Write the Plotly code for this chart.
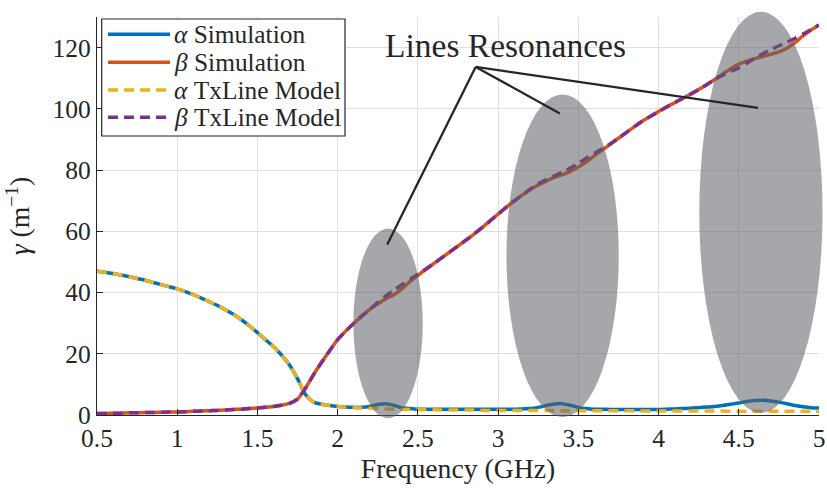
import plotly.graph_objects as go

# Frequency grid (GHz)
freq = [round(0.5 + 0.05 * i, 2) for i in range(91)]

# Attenuation constant alpha (1/m), full-wave simulation
alpha_sim = [
    47.0, 46.6, 46.2, 45.7, 45.2, 44.6, 44.0, 43.3, 42.6, 41.9,
    41.2, 40.3, 39.3, 38.2, 37.0, 35.8, 34.4, 32.9, 31.1, 29.1,
    26.9, 24.6, 22.3, 19.6, 16.3, 11.8, 6.6, 4.2, 3.5, 3.1,
    2.8, 2.6, 2.5, 2.5, 2.8, 3.4, 3.7, 3.2, 2.4, 2.1,
    1.9, 1.9, 1.9, 1.9, 1.9, 1.9, 1.9, 1.9, 1.9, 1.9,
    1.9, 1.9, 1.9, 2.0, 2.1, 2.5, 3.1, 3.6, 3.7, 3.2,
    2.5, 2.1, 1.9, 1.9, 1.8, 1.8, 1.8, 1.8, 1.8, 1.8,
    1.8, 1.9, 2.0, 2.1, 2.2, 2.4, 2.6, 2.8, 3.1, 3.5,
    3.9, 4.4, 4.7, 4.8, 4.6, 4.2, 3.7, 3.1, 2.7, 2.4,
    2.3,
]

# Phase constant beta (1/m), full-wave simulation
beta_sim = [
    0.5, 0.5, 0.6, 0.6, 0.7, 0.7, 0.8, 0.8, 0.9, 1.0,
    1.0, 1.1, 1.2, 1.3, 1.4, 1.5, 1.6, 1.8, 1.9, 2.1,
    2.3, 2.5, 2.8, 3.2, 3.8, 5.2, 8.8, 13.2, 17.2, 21.0,
    24.6, 27.4, 29.9, 32.3, 34.5, 36.3, 38.0, 39.3, 41.2, 43.6,
    45.6, 47.6, 49.5, 51.4, 53.3, 55.2, 57.1, 59.1, 61.2, 63.4,
    65.6, 67.8, 69.9, 71.8, 73.6, 75.1, 76.4, 77.6, 78.5, 79.6,
    81.0, 82.7, 84.7, 86.6, 88.5, 90.4, 92.3, 94.2, 96.0, 97.6,
    99.1, 100.6, 102.0, 103.4, 104.8, 106.3, 107.9, 109.6, 111.4, 113.1,
    114.6, 115.6, 116.4, 117.1, 117.8, 118.6, 119.8, 121.6, 123.8, 125.7,
    127.4,
]

# Transmission-line model
alpha_model = [
    47.0, 46.6, 46.2, 45.7, 45.2, 44.6, 44.0, 43.3, 42.6, 41.9,
    41.2, 40.3, 39.3, 38.2, 37.0, 35.8, 34.4, 32.9, 31.1, 29.1,
    26.9, 24.6, 22.3, 19.6, 16.3, 11.8, 6.6, 4.2, 3.5, 3.1,
    2.8, 2.6, 2.4, 2.3, 2.2, 2.1, 2.0, 1.9, 1.8, 1.8,
    1.7, 1.7, 1.7, 1.6, 1.6, 1.6, 1.6, 1.6, 1.5, 1.5,
    1.5, 1.5, 1.5, 1.5, 1.5, 1.5, 1.5, 1.4, 1.4, 1.4,
    1.4, 1.4, 1.4, 1.4, 1.4, 1.4, 1.4, 1.3, 1.3, 1.3,
    1.3, 1.3, 1.3, 1.3, 1.3, 1.3, 1.3, 1.3, 1.3, 1.2,
    1.2, 1.2, 1.2, 1.2, 1.2, 1.2, 1.2, 1.2, 1.2, 1.2,
    1.2,
]

beta_model = [
    0.5, 0.5, 0.6, 0.6, 0.7, 0.7, 0.8, 0.8, 0.9, 1.0,
    1.0, 1.1, 1.2, 1.3, 1.4, 1.5, 1.6, 1.8, 1.9, 2.1,
    2.3, 2.5, 2.8, 3.2, 3.8, 5.2, 8.8, 13.2, 17.2, 21.0,
    24.6, 27.4, 29.9, 32.3, 34.5, 36.8, 38.9, 40.8, 42.6, 44.3,
    46.0, 47.7, 49.5, 51.4, 53.3, 55.2, 57.1, 59.1, 61.2, 63.4,
    65.6, 67.8, 69.9, 71.8, 73.8, 75.5, 76.9, 78.1, 79.3, 80.7,
    82.2, 83.9, 85.5, 87.0, 88.6, 90.4, 92.3, 94.2, 96.0, 97.6,
    99.1, 100.6, 102.0, 103.4, 104.8, 106.3, 107.9, 109.6, 111.0, 112.2,
    113.4, 114.9, 116.5, 118.0, 119.3, 120.6, 121.8, 123.0, 124.4, 125.9,
    127.4,
]

x_ticks = [0.5, 1, 1.5, 2, 2.5, 3, 3.5, 4, 4.5, 5]
x_ticktext = ["0.5", "1", "1.5", "2", "2.5", "3", "3.5", "4", "4.5", "5"]
y_ticks = [0, 20, 40, 60, 80, 100, 120]

# Resonance regions: (centre GHz, centre gamma, half-width GHz, half-height)
resonances = [
    (2.314, 29.9, 0.216, 31.0),
    (3.402, 52.0, 0.350, 52.7),
    (4.638, 66.2, 0.384, 65.5),
]
label_pos = (3.045, 120.8)
pointer_hub = (2.860, 113.7)
pointer_tips = [(2.309, 55.7), (3.385, 98.5), (4.620, 100.3)]

X_RANGE = [0.5, 5.0]
Y_RANGE = [0, 130]

W, H = 827, 488
M = dict(l=97, r=8, t=17, b=73)

BLUE, ORANGE, YELLOW, PURPLE = "#0072BD", "#D95319", "#EDB120", "#7E2F8E"
INK = "#262626"
FONT = "Liberation Serif, Times New Roman, serif"
LW = 3.5
DASH = "10px,6px"

series = [
    ("<i>α</i> Simulation", alpha_sim, BLUE, "solid"),
    ("<i>β</i> Simulation", beta_sim, ORANGE, "solid"),
    ("<i>α</i> TxLine Model", alpha_model, YELLOW, DASH),
    ("<i>β</i> TxLine Model", beta_model, PURPLE, DASH),
]

fig = go.Figure()
for name, vals, color, dash in series:
    fig.add_trace(go.Scatter(
        x=freq, y=vals, mode="lines", name=name, showlegend=False,
        line=dict(color=color, width=LW, dash=dash, shape="spline", smoothing=0.7),
    ))


def to_paper_x(f):
    return (f - X_RANGE[0]) / (X_RANGE[1] - X_RANGE[0])


def to_paper_y(g):
    return (g - Y_RANGE[0]) / (Y_RANGE[1] - Y_RANGE[0])


def px_x(p):
    return (p - M["l"]) / (W - M["l"] - M["r"])


def px_y(p):
    return (H - M["b"] - p) / (H - M["t"] - M["b"])


shapes = []
# Shaded resonance ellipses (semi-transparent, over the curves)
for fc, gc, hw, hh in resonances:
    shapes.append(dict(
        type="circle", xref="paper", yref="paper",
        x0=to_paper_x(fc - hw), x1=to_paper_x(fc + hw),
        y0=to_paper_y(gc - hh), y1=to_paper_y(gc + hh),
        fillcolor="rgba(92,95,100,0.55)", line=dict(width=0), layer="above",
    ))
# Pointer lines from the label to each resonance
for tx, ty in pointer_tips:
    shapes.append(dict(
        type="line", xref="x", yref="y",
        x0=pointer_hub[0], y0=pointer_hub[1], x1=tx, y1=ty,
        line=dict(color=INK, width=2.3), layer="above",
    ))

# Legend box with line samples
leg_x0, leg_x1, leg_y0, leg_y1 = 101.7, 345, 19, 136
shapes.append(dict(
    type="rect", xref="paper", yref="paper",
    x0=px_x(leg_x0), x1=px_x(leg_x1), y0=px_y(leg_y1), y1=px_y(leg_y0),
    fillcolor="white", line=dict(color=INK, width=1.2), layer="above",
))
row_y = [34.3, 62.3, 90.0, 117.3]
annotations = []
for (name, _, color, dash), ry in zip(series, row_y):
    shapes.append(dict(
        type="line", xref="paper", yref="paper",
        x0=px_x(108), x1=px_x(170), y0=px_y(ry), y1=px_y(ry),
        line=dict(color=color, width=LW, dash=dash), layer="above",
    ))
    annotations.append(dict(
        xref="paper", yref="paper", x=px_x(172), y=px_y(ry),
        text=name, showarrow=False, xanchor="left", yanchor="middle",
        font=dict(family=FONT, size=25.4, color=INK),
    ))

annotations.append(dict(
    xref="x", yref="y", x=label_pos[0], y=label_pos[1],
    text="Lines Resonances", showarrow=False, xanchor="center", yanchor="middle",
    font=dict(family=FONT, size=33.5, color=INK),
))

axis_common = dict(
    showgrid=True, gridcolor="#dfdfdf", gridwidth=1,
    showline=True, linecolor=INK, linewidth=1.3, mirror=False,
    ticks="inside", ticklen=6, tickcolor=INK, tickwidth=1.3,
    zeroline=False, automargin=False,
    tickfont=dict(family=FONT, size=25.5, color=INK),
)

fig.update_layout(
    width=W, height=H, margin=M,
    paper_bgcolor="white", plot_bgcolor="white",
    font=dict(family=FONT, color=INK),
    showlegend=False,
    xaxis=dict(
        range=X_RANGE, tickvals=x_ticks, ticktext=x_ticktext,
        title=dict(text="Frequency (GHz)", font=dict(family=FONT, size=27.7, color=INK), standoff=4),
        **axis_common,
    ),
    yaxis=dict(
        range=Y_RANGE, tickvals=y_ticks,
        title=dict(text="<i>γ</i> (m<sup>−1</sup>)", font=dict(family=FONT, size=27.7, color=INK), standoff=14),
        **axis_common,
    ),
    shapes=shapes,
    annotations=annotations,
)

fig.write_html("out.html")
